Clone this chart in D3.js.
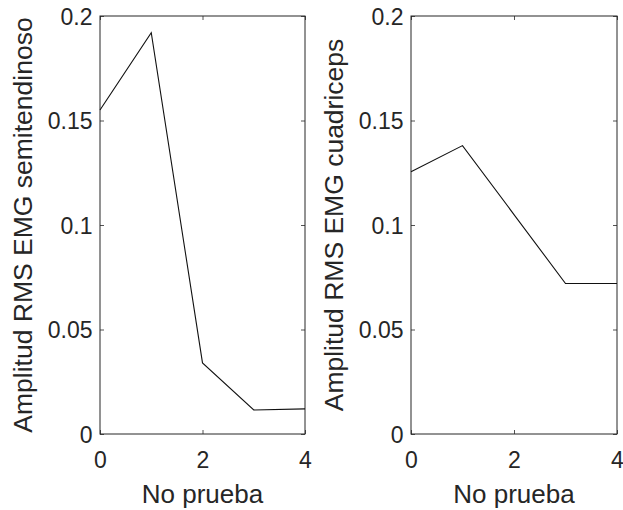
<!DOCTYPE html>
<html><head><meta charset="utf-8">
<script src="https://cdn.jsdelivr.net/npm/d3@7"></script>
<style>body{margin:0;background:#fff}svg{display:block}</style>
</head><body>
<svg id="c" width="623" height="510"></svg>
<script>
const xValues = [0, 1, 2, 3, 4];
const semitendinoso = [0.155, 0.192, 0.034, 0.0115, 0.012];
const cuadriceps = [0.1255, 0.138, 0.105, 0.072, 0.072];
const xTicks = [0, 2, 4];
const yTicks = [0, 0.05, 0.1, 0.15, 0.2];
const yTickLabels = ["0", "0.05", "0.1", "0.15", "0.2"];
const xLabel = "No prueba";
const yLabels = ["Amplitud RMS EMG semitendinoso", "Amplitud RMS EMG cuadriceps"];

(function(){
const svg = d3.select("#c");
const col = "#262626";
const font = "Liberation Sans, Arial, sans-serif";
const panels = [
  {x0: 100, x1: 305, data: semitendinoso, yl: yLabels[0], ylx: 32},
  {x0: 411, x1: 617, data: cuadriceps, yl: yLabels[1], ylx: 343}
];
const plotTop = 16, plotBottom = 434;

panels.forEach(p => {
  const x = d3.scaleLinear().domain([0, 4]).range([p.x0, p.x1]);
  const y = d3.scaleLinear().domain([0, 0.2]).range([plotBottom, plotTop]);
  const g = svg.append("g");
  const ax = g.append("g").attr("transform", `translate(0,${plotBottom})`)
    .call(d3.axisBottom(x).tickValues(xTicks).tickSize(-4).tickFormat(d3.format("d")));
  const axT = g.append("g").attr("transform", `translate(0,${plotTop})`)
    .call(d3.axisTop(x).tickValues(xTicks).tickSize(-4).tickFormat(""));
  const ay = g.append("g").attr("transform", `translate(${p.x0},0)`)
    .call(d3.axisLeft(y).tickValues(yTicks).tickSize(-4).tickFormat((d,i)=>yTickLabels[i]));
  const ayR = g.append("g").attr("transform", `translate(${p.x1},0)`)
    .call(d3.axisRight(y).tickValues(yTicks).tickSize(-4).tickFormat(""));
  [ax, axT, ay, ayR].forEach(a => {
    a.select(".domain").remove();
    a.selectAll("line").attr("stroke", col).attr("stroke-width", 0.8);
    a.selectAll("text").attr("fill", col).style("font-family", font).style("font-size", "23px");
  });
  ax.selectAll("text").attr("y", 33.5).attr("dy", null);
  ay.selectAll("text").attr("x", -7.5).attr("dy", "0.36em");
  g.append("rect").attr("x", p.x0).attr("y", plotTop).attr("width", p.x1 - p.x0).attr("height", plotBottom - plotTop)
    .attr("fill", "none").attr("stroke", col).attr("stroke-width", 1);
  const line = d3.line().x((d,i)=>x(xValues[i])).y(d=>y(d));
  g.append("path").datum(p.data).attr("d", line).attr("fill", "none").attr("stroke", "#111").attr("stroke-width", 1.1);
  g.append("text").attr("x", (p.x0 + p.x1)/2).attr("y", 503).attr("text-anchor", "middle")
    .attr("fill", col).style("font-family", font).style("font-size", "26px").text(xLabel);
  g.append("text").attr("transform", `translate(${p.ylx},${(plotTop+plotBottom)/2}) rotate(-90)`)
    .attr("text-anchor", "middle").attr("fill", col).style("font-family", font).style("font-size", "26.5px").text(p.yl);
});
})();
</script>
</body></html>
